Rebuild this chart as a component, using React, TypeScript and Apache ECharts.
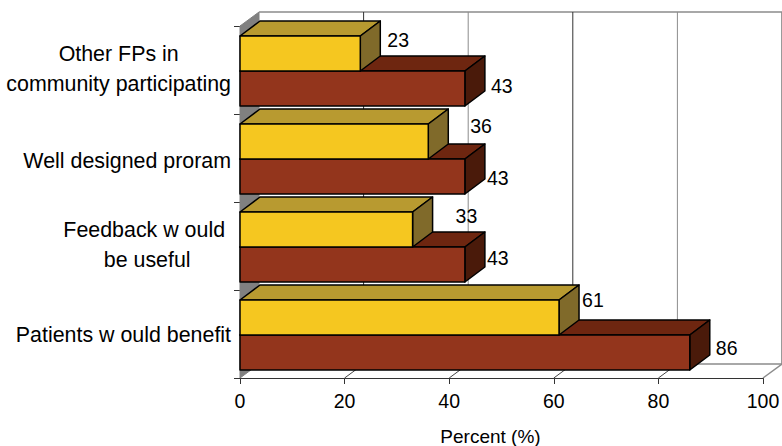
import React, { useEffect, useRef } from "react";
import * as echarts from "echarts";

const categories = [
  "Other FPs in\ncommunity participating",
  "Well designed proram",
  "Feedback w ould\u00a0\nbe useful",
  "Patients w ould benefit",
];
const yellowValues = [23, 36, 33, 61];
const redValues = [43, 43, 43, 86];
const xTicks = [0, 20, 40, 60, 80, 100];

// label offsets [dx from bar end, dy from bar centre]
const yellowNudge = [[27, -14], [42, -16], [43, -14], [23, -18]];
const redNudge = [[26, -3], [22, 1], [22, -7], [26, -5]];

const FONT = "Liberation Sans, Arial, sans-serif";
const FS = 19.5;
const CAT_FS = 21.4;
const DX = 19;
const DY = 14;
const BAR_DX = 20;
const BAR_DY = 15;
const BAR_H = 35;

function barRender(
  colors: { front: string; top: string; side: string },
  from: number,
  nudge: number[][]
) {
  return (_p: any, api: any) => {
    const v = api.value(0);
    const i = api.value(1);
    const c = api.coord([v, i]);
    const base = api.coord([0, i]);
    const y0 = c[1] + from;
    const y1 = y0 + BAR_H;
    const x0 = base[0];
    const x1 = c[0];
    const lineStyle = { stroke: "#000", lineWidth: 1.5, lineJoin: "round" };
    const poly = (points: number[][], fill: string) => ({
      type: "polygon",
      shape: { points },
      style: { fill, ...lineStyle },
    });
    return {
      type: "group",
      children: [
        poly([[x0, y0], [x0 + BAR_DX, y0 - BAR_DY], [x1 + BAR_DX, y0 - BAR_DY], [x1, y0]], colors.top),
        poly([[x1, y0], [x1 + BAR_DX, y0 - BAR_DY], [x1 + BAR_DX, y1 - BAR_DY], [x1, y1]], colors.side),
        poly([[x0, y0], [x1, y0], [x1, y1], [x0, y1]], colors.front),
        {
          type: "text",
          x: x1 + nudge[i][0],
          y: (y0 + y1) / 2 + nudge[i][1],
          style: {
            text: String(v),
            fill: "#000",
            font: `${FS}px ${FONT}`,
            align: "left",
            verticalAlign: "middle",
          },
        },
      ],
    };
  };
}

function wallRender(p: any, api: any) {
  const v = api.value(0);
  const sys = p.coordSys;
  const x = api.coord([v, 0])[0];
  const top = sys.y;
  const bottom = sys.y + sys.height;
  const grey = "#8c8c8c";
  const dark = p.dataIndex % 2 === 1 ? "#333" : grey;
  const children: any[] = [];
  if (p.dataIndex === 0) {
    children.push({
      type: "polygon",
      shape: {
        points: [[x, top], [x + DX, top - DY], [x + DX, bottom - DY], [x, bottom]],
      },
      style: { fill: "#808080", stroke: "#808080", lineWidth: 1 },
    });
    children.push({
      type: "polyline",
      shape: {
        points: [
          [x + DX, top - DY],
          [sys.x + sys.width + DX, top - DY],
          [sys.x + sys.width + DX, bottom - DY],
          [x + DX, bottom - DY],
        ],
      },
      style: { fill: "none", stroke: grey, lineWidth: 1.5 },
    });
  } else {
    children.push({
      type: "line",
      shape: { x1: x + DX, y1: top - DY, x2: x + DX, y2: bottom - DY },
      style: { stroke: v === 100 ? grey : dark, lineWidth: 1 },
    });
    children.push({
      type: "line",
      shape: { x1: x, y1: bottom, x2: x + DX, y2: bottom - DY },
      style: { stroke: v === 100 ? grey : "#444", lineWidth: v === 100 ? 1.5 : 1 },
    });
  }
  return { type: "group", children };
}

const labelBase = {
  fontFamily: FONT,
  fontSize: CAT_FS,
  color: "#000",
  align: "center",
};

export default function App() {
  const ref = useRef<HTMLDivElement>(null);
  useEffect(() => {
    const chart = echarts.init(ref.current!, undefined, { renderer: "svg" });
    chart.setOption({
      animation: false,
      backgroundColor: "#fff",
      grid: { left: 240, right: 19, top: 26, bottom: 68, containLabel: false, outerBoundsMode: "none" },
      xAxis: {
        type: "value",
        min: 0,
        max: 100,
        interval: 20,
        name: "Percent (%)",
        nameLocation: "middle",
        nameGap: 49,
        nameTextStyle: { fontFamily: FONT, fontSize: 19, color: "#000", padding: [0, 22, 0, 0] },
        axisLine: { show: true, lineStyle: { color: "#333", width: 1 } },
        axisTick: { show: true, length: 6, lineStyle: { color: "#333" } },
        axisLabel: { fontFamily: FONT, fontSize: FS, color: "#000", margin: 13, hideOverlap: false, showMaxLabel: true },
        splitLine: { show: false },
      },
      yAxis: {
        type: "category",
        inverse: true,
        data: categories,
        axisLine: { show: true, onZero: false, lineStyle: { color: "#333", width: 1 } },
        axisTick: { show: true, length: 6, lineStyle: { color: "#333" } },
        axisLabel: {
          margin: 9,
          interval: 0,
          formatter: (s: string, idx: number) => {
            const lines = s.split("\n");
            const tag = lines.length > 1 ? "d" : idx === 1 ? "s" : "p";
            return lines.map((l) => `{${tag}|${l}}`).join("\n");
          },
          rich: {
            d: { ...labelBase, lineHeight: 30, padding: [0, 0, 3, 0] },
            s: { ...labelBase, lineHeight: 26, padding: [5, 0, 0, 0] },
            p: { ...labelBase, lineHeight: 26, padding: [2, 0, 0, 0] },
          },
        },
      },
      series: [
        {
          type: "custom",
          z: 1,
          silent: true,
          clip: false,
          encode: { x: 0 },
          data: xTicks.map((t) => [t, 0]),
          renderItem: wallRender,
        },
        {
          type: "custom",
          z: 3,
          silent: true,
          clip: false,
          encode: { x: 0, y: 1 },
          data: redValues.map((v, i) => [v, i]),
          renderItem: barRender(
            { front: "#93351C", top: "#6E2610", side: "#4A1A0A" },
            1,
            redNudge
          ),
        },
        {
          type: "custom",
          z: 4,
          silent: true,
          clip: false,
          encode: { x: 0, y: 1 },
          data: yellowValues.map((v, i) => [v, i]),
          renderItem: barRender(
            { front: "#F5C720", top: "#B89A30", side: "#806A2A" },
            -34,
            yellowNudge
          ),
        },
      ],
    });
    return () => chart.dispose();
  }, []);
  return (
    <div
      ref={ref}
      style={{ position: "fixed", left: 0, top: 0, width: 782, height: 446 }}
    />
  );
}
